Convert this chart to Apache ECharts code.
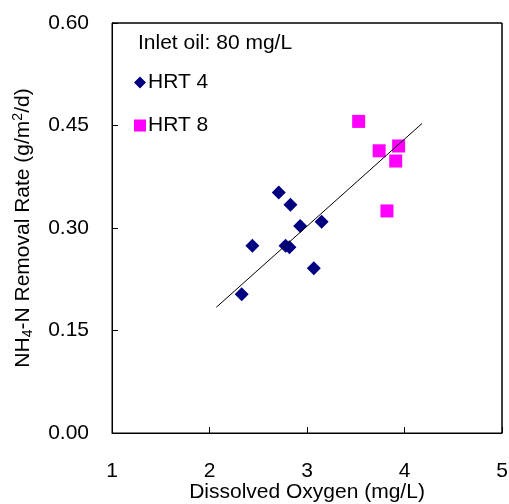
<!DOCTYPE html>
<html><head><meta charset="utf-8">
<script src="https://cdn.jsdelivr.net/npm/echarts@6/dist/echarts.min.js"></script>
<style>html,body{margin:0;padding:0;background:#fff}#c{width:509px;height:504px}</style>
</head><body><div id="c"></div>
<script>
const hrt4X = [2.71, 2.83, 2.44, 2.78, 2.82, 2.93, 3.15, 3.07, 2.33];
const hrt4Y = [0.352, 0.334, 0.274, 0.274, 0.272, 0.303, 0.309, 0.241, 0.203];
const hrt8X = [3.53, 3.74, 3.94, 3.91, 3.82];
const hrt8Y = [0.456, 0.413, 0.420, 0.398, 0.325];
const trendX = [2.07, 4.18];
const trendY = [0.184, 0.453];
const xTicks = [1, 2, 3, 4, 5];
const yTicks = [0, 0.15, 0.30, 0.45, 0.60];

const font = 'Liberation Sans, Arial, sans-serif';
const fs = 21;
const zip = (a, b) => a.map((v, i) => [v, b[i]]);
const xMin = xTicks[0], xMax = xTicks[xTicks.length - 1];
const yMin = yTicks[0], yMax = yTicks[yTicks.length - 1];
const G = { left: 112, right: 7, top: 23, bottom: 71 };
const chart = echarts.init(document.getElementById('c'));
chart.setOption({
  animation: false,
  backgroundColor: '#fff',
  textStyle: { fontFamily: font },
  grid: Object.assign({ containLabel: false, outerBoundsMode: 'none',
    show: true, borderColor: '#000', borderWidth: 1, backgroundColor: 'rgba(0,0,0,0)' }, G),
  title: {
    text: 'Inlet oil: 80 mg/L', left: 133, top: 28,
    textStyle: { fontFamily: font, fontSize: fs, fontWeight: 'normal', color: '#000' }
  },
  legend: {
    orient: 'vertical', left: 134, top: 72, itemGap: 22, padding: 0,
    itemWidth: 12, itemHeight: 12,
    textStyle: { fontFamily: font, fontSize: fs, color: '#000', padding: [0, 0, 0, -3] },
    data: [{ name: 'HRT 4', icon: 'diamond' }, { name: 'HRT 8', icon: 'rect' }]
  },
  xAxis: {
    type: 'value', min: xMin, max: xMax, interval: 1,
    name: 'Dissolved Oxygen (mg/L)', nameLocation: 'middle', nameGap: 49, nameMoveOverlap: false,
    nameTextStyle: { fontFamily: font, fontSize: fs, color: '#000' },
    axisLine: { show: true, onZero: false, lineStyle: { color: '#000', width: 1 } },
    axisTick: { show: true, inside: true, length: 6, lineStyle: { color: '#000' } },
    axisLabel: { fontFamily: font, fontSize: fs, color: '#000', margin: 28 },
    splitLine: { show: false }
  },
  yAxis: {
    type: 'value', min: yMin, max: yMax, interval: 0.15,
    name: '{n|NH}{sub|4}{n|-N Removal Rate (g/m}{sup|2}{n|/d)}',
    nameLocation: 'middle', nameGap: 77, nameRotate: 90, nameMoveOverlap: false,
    nameTextStyle: {
      fontFamily: font, fontSize: fs, color: '#000',
      rich: {
        n: { fontFamily: font, fontSize: fs, color: '#000' },
        sub: { fontFamily: font, fontSize: 14, color: '#000', verticalAlign: 'bottom', padding: [10, 0, 0, 0] },
        sup: { fontFamily: font, fontSize: 14, color: '#000', verticalAlign: 'top', padding: [0, 0, 10, 0] }
      }
    },
    axisLine: { show: true, onZero: false, lineStyle: { color: '#000', width: 1 } },
    axisTick: { show: true, inside: true, length: 6, lineStyle: { color: '#000' } },
    axisLabel: { fontFamily: font, fontSize: fs, color: '#000', margin: 23,
      formatter: v => v.toFixed(2) },
    splitLine: { show: false }
  },
  series: [
    { name: 'frame', type: 'line', data: [[xMin, yMax], [xMax, yMax], [xMax, yMin]],
      symbol: 'none', clip: false, silent: true, z: 10, lineStyle: { color: '#000', width: 1 } },
    { name: 'trend', type: 'line', data: zip(trendX, trendY), symbol: 'none',
      lineStyle: { color: '#000', width: 1 }, silent: true },
    { name: 'HRT 4', type: 'scatter', data: zip(hrt4X, hrt4Y), symbol: 'diamond',
      symbolSize: [14, 14], itemStyle: { color: '#000080', opacity: 1 } },
    { name: 'HRT 8', type: 'scatter', data: zip(hrt8X, hrt8Y), symbol: 'rect',
      symbolSize: 13, itemStyle: { color: '#FF00FF', opacity: 1 } }
  ]
});
</script></body></html>
